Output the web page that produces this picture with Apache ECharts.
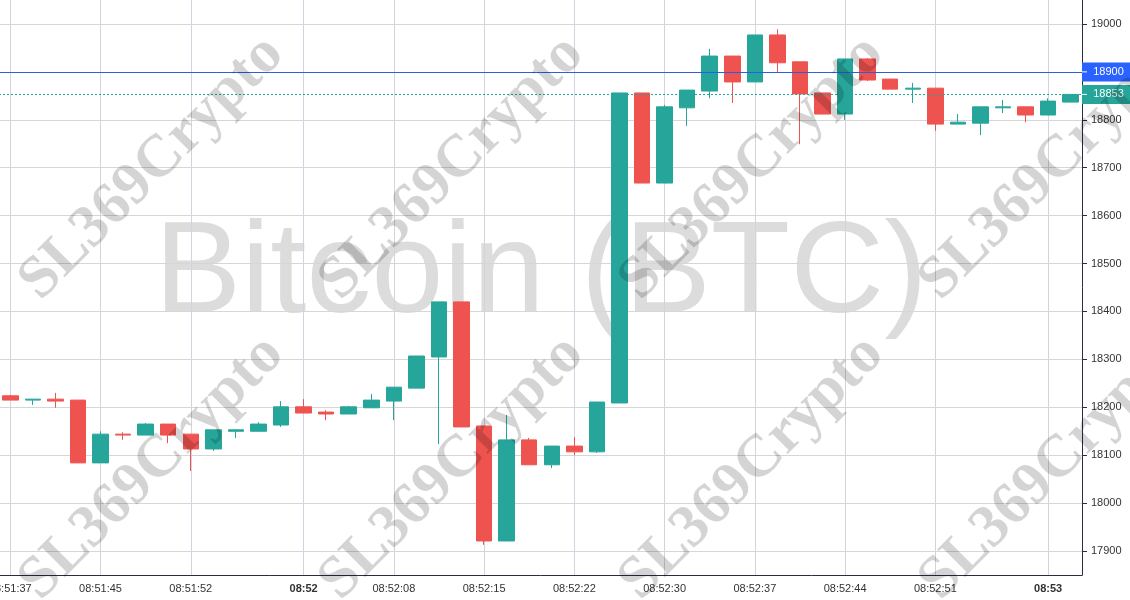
<!DOCTYPE html>
<html lang="en">
<head>
<meta charset="UTF-8">
<title>Bitcoin (BTC) candles</title>
<script src="https://cdn.jsdelivr.net/npm/echarts@6/dist/echarts.min.js"></script>
<style>
  html, body { margin: 0; padding: 0; background: #fff; }
  #chart { width: 1130px; height: 600px; }
</style>
</head>
<body>
<div id="chart"></div>
<script>
// tick labels sit on these candle positions, the rest of the candles have no label
const tickLabels = {
  0: '08:51:37', 4: '08:51:45', 8: '08:51:52', 13: '08:52', 17: '08:52:08', 21: '08:52:15',
  25: '08:52:22', 29: '08:52:30', 33: '08:52:37', 37: '08:52:44', 41: '08:52:51', 46: '08:53'
};
const priceTicks = [17900, 18000, 18100, 18200, 18300, 18400, 18500, 18600, 18700, 18800, 18900, 19000];

const opens = [18224, 18215, 18217, 18215, 18084, 18144, 18142, 18165, 18144, 18113, 18150, 18150,
  18163, 18201, 18190, 18186, 18199, 18213, 18240, 18305, 18420, 18161, 17921, 18132,
  18080, 18119, 18107, 18209, 18856, 18668, 18825, 18860, 18933, 18879, 18977, 18921,
  18856, 18812, 18927, 18885, 18864, 18866, 18791, 18793, 18825, 18827, 18810, 18837];
const closes = [18215, 18217, 18213, 18084, 18144, 18142, 18165, 18142, 18113, 18153, 18153, 18165,
  18201, 18188, 18186, 18201, 18215, 18242, 18307, 18420, 18159, 17921, 18132, 18080,
  18119, 18107, 18211, 18856, 18668, 18827, 18862, 18933, 18879, 18977, 18919, 18854,
  18812, 18927, 18883, 18864, 18866, 18791, 18795, 18827, 18827, 18810, 18839, 18853];
const lows = [18215, 18205, 18199, 18084, 18084, 18132, 18142, 18125, 18067, 18109, 18136, 18150,
  18159, 18188, 18173, 18186, 18199, 18173, 18240, 18123, 18159, 17913, 17921, 18080,
  18073, 18100, 18105, 18209, 18668, 18668, 18787, 18845, 18835, 18879, 18900, 18749,
  18812, 18800, 18881, 18864, 18835, 18777, 18791, 18768, 18814, 18795, 18810, 18837];
const highs = [18226, 18217, 18230, 18215, 18150, 18148, 18167, 18165, 18144, 18153, 18153, 18169,
  18213, 18217, 18194, 18203, 18228, 18242, 18307, 18420, 18420, 18161, 18184, 18136,
  18119, 18138, 18211, 18856, 18856, 18831, 18862, 18948, 18933, 18977, 18989, 18921,
  18856, 18927, 18929, 18885, 18877, 18866, 18812, 18827, 18841, 18827, 18845, 18853];

const categories = opens.map((_, i) => tickLabels[i] || '');
const candles = opens.map((o, i) => [o, closes[i], lows[i], highs[i]]);
const markedPrice = 18900;
const lastPrice = 18853;

const hasTick = (i) => tickLabels[i] !== undefined;

// repeated diagonal watermark on top of everything
const watermarks = [];
for (let col = 0; col < 4; col++) {
  for (let row = 0; row < 2; row++) {
    watermarks.push({
      type: 'text', silent: true, z: 100,
      x: 152 + col * 300, y: 168 + row * 300, rotation: Math.PI / 4,
      style: {
        text: 'SL369Crypto', fill: 'rgba(0,0,0,0.17)',
        font: 'bold 60px "Liberation Serif"',
        textAlign: 'center', textVerticalAlign: 'middle'
      }
    });
  }
}

function priceLine(value, lineColor, lineType, labelColor) {
  return {
    yAxis: value,
    lineStyle: { color: lineColor, type: lineType, width: 1 },
    label: {
      show: true, position: 'end', distance: 0,
      formatter: '{t|}{v|' + value + '}',
      backgroundColor: labelColor, padding: [0, 0, 0, 0],
      rich: {
        t: { width: 5, height: 1, backgroundColor: '#fff' },
        v: { width: 43, height: 19, lineHeight: 19, align: 'center', color: '#fff',
             fontFamily: 'Liberation Sans', fontSize: 11 }
      }
    }
  };
}

const chart = echarts.init(document.getElementById('chart'));
chart.setOption({
  animation: false,
  backgroundColor: '#fff',
  graphic: [{
    type: 'text', silent: true, z: -1,
    x: 541, y: 276,
    style: {
      text: 'Bitcoin (BTC)', fill: 'rgba(125,127,131,0.27)',
      font: '130px "Liberation Sans"',
      textAlign: 'center', textVerticalAlign: 'middle'
    }
  }].concat(watermarks),
  grid: { left: -1, right: 48, top: 0, bottom: 25, outerBoundsMode: 'none' },
  xAxis: {
    type: 'category',
    data: categories,
    axisLine: { lineStyle: { color: '#2b2b43', width: 1 } },
    axisTick: { alignWithLabel: true, length: 4, interval: hasTick, lineStyle: { color: '#2b2b43' } },
    axisLabel: {
      interval: hasTick, margin: 8, color: '#333',
      fontFamily: 'Liberation Sans', fontSize: 11,
      formatter: (v) => v.length === 5 ? '{b|' + v + '}' : v,
      rich: { b: { fontWeight: 'bold', color: '#333', fontFamily: 'Liberation Sans', fontSize: 11 } }
    },
    splitLine: { show: true, alignWithLabel: true, interval: hasTick, lineStyle: { color: '#d1d4dc', width: 1 } }
  },
  yAxis: {
    type: 'value',
    position: 'right',
    min: 17850,
    max: 19050,
    axisLine: { show: true, lineStyle: { color: '#2b2b43', width: 1 } },
    axisTick: { show: true, length: 5, customValues: priceTicks, lineStyle: { color: '#2b2b43' } },
    axisLabel: {
      customValues: priceTicks, margin: 9, color: '#333',
      fontFamily: 'Liberation Sans', fontSize: 11, lineHeight: 14, padding: [3, 0, 0, 0],
      formatter: (v) => String(v)
    },
    splitLine: { show: true, lineStyle: { color: '#d6d6d6', width: 1 } }
  },
  series: [{
    type: 'candlestick',
    data: candles,
    barWidth: 16,
    itemStyle: {
      color: '#26a69a', color0: '#ef5350',
      borderColor: '#26a69a', borderColor0: '#ef5350', borderWidth: 1
    },
    markLine: {
      silent: true, symbol: 'none', animation: false,
      data: [
        priceLine(markedPrice, '#2c5ee0', 'solid', '#2962ff'),
        priceLine(lastPrice, '#26a69a', [2, 2], '#26a69a')
      ]
    }
  }]
});
</script>
</body>
</html>
